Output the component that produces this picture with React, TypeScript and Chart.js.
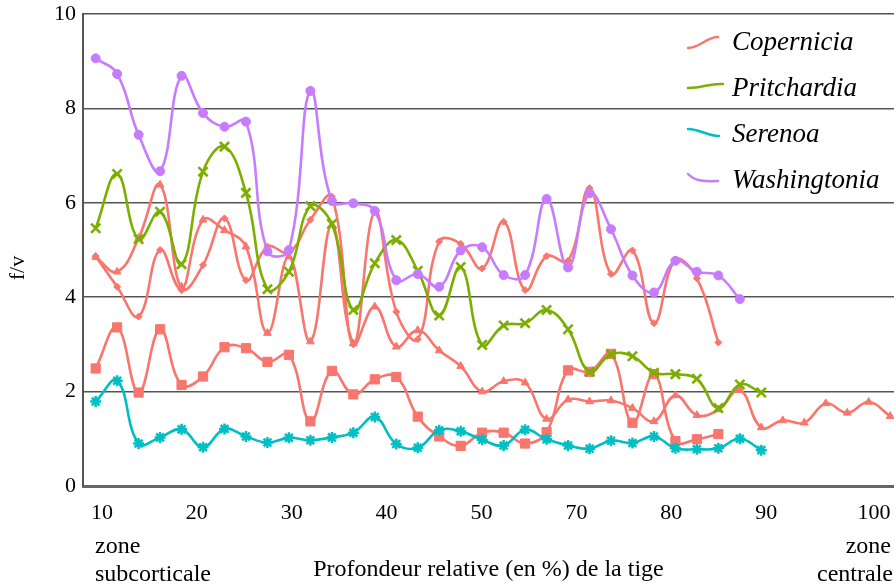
import React, { useEffect, useRef } from "react";
import { Chart, registerables } from "chart.js";

Chart.register(...registerables);

// ---- data ----
const X_LABELS = ["10", "20", "30", "40", "50", "70", "80", "90", "100"];
const X_LABEL_AT = [0.29, 4.71, 9.13, 13.55, 17.97, 22.39, 26.81, 31.23, 36.25];
const SERIES_NAMES = ["Copernicia", "Pritchardia", "Serenoa", "Washingtonia"];

const COPERNICIA_DIAMOND = [
  4.87, 4.22, 3.59, 5.0, 4.15, 4.68, 5.67, 4.36, 5.07, 4.95, 5.64, 6.13, 3.0, 5.81, 3.69,
  3.11, 5.18, 5.13, 4.61, 5.6, 4.15, 4.87, 4.77, 6.31, 4.49, 4.99, 3.45, 4.79, 4.4, 3.04,
];
const COPERNICIA_SQUARE = [
  2.49, 3.36, 1.98, 3.32, 2.14, 2.32, 2.94, 2.92, 2.63, 2.78, 1.37, 2.44, 1.94, 2.26, 2.31,
  1.47, 1.05, 0.85, 1.13, 1.13, 0.9, 1.14, 2.45, 2.42, 2.8, 1.34, 2.37, 0.95, 0.99, 1.1,
];
const COPERNICIA_TRIANGLE = [
  4.85, 4.54, 5.25, 6.38, 4.22, 5.64, 5.42, 5.07, 3.24, 4.86, 3.06, 5.53, 3.02, 3.8, 2.95,
  3.3, 2.87, 2.54, 2.0, 2.22, 2.19, 1.42, 1.83, 1.79, 1.81, 1.65, 1.37, 1.92, 1.5, 1.62,
  2.03, 1.24, 1.39, 1.34, 1.75, 1.55, 1.78, 1.48,
];
const PRITCHARDIA = [
  5.46, 6.61, 5.23, 5.81, 4.7, 6.66, 7.19, 6.21, 4.17, 4.54, 5.93, 5.55, 3.73, 4.72, 5.21,
  4.56, 3.61, 4.64, 2.99, 3.4, 3.45, 3.73, 3.32, 2.42, 2.79, 2.75, 2.4, 2.37, 2.27, 1.65,
  2.15, 1.98,
];
const SERENOA = [
  1.79, 2.23, 0.9, 1.03, 1.2, 0.82, 1.21, 1.05, 0.92, 1.02, 0.97, 1.03, 1.13, 1.46, 0.89,
  0.81, 1.18, 1.16, 0.98, 0.86, 1.19, 0.99, 0.86, 0.79, 0.96, 0.91, 1.05, 0.8, 0.78, 0.8,
  1.0, 0.76,
];
const WASHINGTONIA = [
  9.06, 8.73, 7.44, 6.67, 8.69, 7.9, 7.61, 7.72, 4.97, 5.0, 8.37, 6.04, 5.99, 5.83, 4.36,
  4.49, 4.22, 4.99, 5.06, 4.47, 4.47, 6.08, 4.63, 6.2, 5.44, 4.46, 4.1, 4.77, 4.54, 4.46,
  3.96,
];

const COLORS = ["#F8766D", "#7CAE00", "#00BFC4", "#C77CFF"];
const SERIF = "'Liberation Serif', 'Times New Roman', serif";

const toPoints = (arr: number[]) => arr.map((y, i) => ({ x: i, y }));

const overlayPlugin = {
  id: "overlay",
  afterDraw(chart: any) {
    const ctx = chart.ctx;
    const area = chart.chartArea;
    ctx.save();
    // legend
    const lx = area.right - 206;
    const ly = area.top + 28;
    const gap = 46;
    const curves = [
      [0, 6, 12, 6, 18, -5, 30, -5],
      [0, 0, 15, 0, 22, -5, 35, -4],
      [0, -5, 12, -5, 19, 2, 31, 2],
      [0, -6, 7, 1.5, 17, 1.5, 30, 1],
    ];
    SERIES_NAMES.forEach((name, k) => {
      const cy = ly + k * gap;
      const c = curves[k];
      ctx.beginPath();
      ctx.strokeStyle = COLORS[k];
      ctx.lineWidth = 2.5;
      ctx.lineCap = "round";
      ctx.moveTo(lx + c[0], cy + c[1]);
      ctx.bezierCurveTo(lx + c[2], cy + c[3], lx + c[4], cy + c[5], lx + c[6], cy + c[7]);
      ctx.stroke();
      ctx.fillStyle = "#000";
      ctx.font = "italic 27px " + SERIF;
      ctx.textAlign = "left";
      ctx.textBaseline = "alphabetic";
      ctx.fillText(name, lx + 44, cy + 8);
    });
    // y-axis title
    ctx.save();
    ctx.translate(18, 268);
    ctx.rotate(-Math.PI / 2);
    ctx.font = "22px " + SERIF;
    ctx.textAlign = "center";
    ctx.textBaseline = "middle";
    ctx.fillStyle = "#000";
    ctx.fillText("f/v", 0, 0);
    ctx.restore();
    // zone labels
    ctx.font = "24px " + SERIF;
    ctx.fillStyle = "#000";
    ctx.textBaseline = "alphabetic";
    ctx.textAlign = "left";
    ctx.fillText("zone", 95, 553);
    ctx.fillText("subcorticale", 95, 581);
    ctx.textAlign = "right";
    ctx.fillText("zone", 891, 553);
    ctx.fillText("centrale", 893, 581);
    ctx.restore();
  },
};

const noPad = (s: any) => {
  s.paddingTop = 0;
  s.paddingBottom = 0;
  s.paddingLeft = 0;
  s.paddingRight = 0;
};

export default function App() {
  const ref = useRef<HTMLCanvasElement | null>(null);

  useEffect(() => {
    document.body.style.margin = "0";
    const canvas = ref.current;
    if (!canvas) return;
    const lineDs = (
      label: string,
      data: number[],
      color: string,
      style: string,
      radius: number,
      order: number,
      pbw = 1
    ) => ({
      label,
      data: toPoints(data),
      borderColor: color,
      backgroundColor: color,
      borderWidth: 2.6,
      pointStyle: style,
      pointRadius: radius,
      pointBorderWidth: pbw,
      pointBackgroundColor: color,
      pointBorderColor: color,
      tension: 0.42,
      order,
    });
    const chart = new Chart(canvas, {
      type: "line",
      data: {
        datasets: [
          lineDs("Copernicia", COPERNICIA_DIAMOND, COLORS[0], "rectRot", 3.5, 3),
          lineDs("Copernicia", COPERNICIA_SQUARE, COLORS[0], "rect", 6.5, 3),
          lineDs("Copernicia", COPERNICIA_TRIANGLE, COLORS[0], "triangle", 4.5, 3),
          lineDs("Pritchardia", PRITCHARDIA, COLORS[1], "crossRot", 6.5, 2, 2.6),
          lineDs("Serenoa", SERENOA, COLORS[2], "star", 5.5, 1, 2.5),
          lineDs("Washingtonia", WASHINGTONIA, COLORS[3], "circle", 4.5, 0),
        ],
      },
      options: {
        animation: false,
        responsive: false,
        events: [],
        layout: { autoPadding: false, padding: { top: 14, right: 0, bottom: 0, left: 0 } },
        plugins: {
          legend: { display: false },
          tooltip: { enabled: false },
        },
        scales: {
          x: {
            type: "linear",
            min: -0.59,
            max: 37.18,
            afterFit: (s: any) => {
              s.height = 102;
              noPad(s);
            },
            afterBuildTicks: (s: any) => {
              s.ticks = X_LABEL_AT.map((v) => ({ value: v }));
            },
            ticks: {
              autoSkip: false,
              maxRotation: 0,
              padding: 14,
              color: "#000",
              font: { family: SERIF, size: 22 },
              callback: (_v: any, i: number) => X_LABELS[i],
            },
            grid: { display: false, drawTicks: false },
            border: { display: true, color: "#666", width: 3 },
            title: {
              display: true,
              text: "Profondeur relative (en %) de la tige",
              color: "#000",
              font: { family: SERIF, size: 24 },
              padding: { top: 0, bottom: 4 },
            },
          },
          y: {
            min: 0,
            max: 10,
            afterFit: (s: any) => {
              s.width = 83;
              noPad(s);
            },
            ticks: {
              stepSize: 2,
              padding: 7,
              color: "#000",
              font: { family: SERIF, size: 22 },
            },
            grid: { color: "#555", lineWidth: 1.6, drawTicks: false },
            border: { display: true, color: "#555", width: 2 },
          },
        },
      },
      plugins: [overlayPlugin],
    } as any);
    return () => chart.destroy();
  }, []);

  return (
    <div style={{ position: "absolute", left: 0, top: 0, width: 894, height: 588 }}>
      <canvas ref={ref} width={894} height={588} />
    </div>
  );
}
